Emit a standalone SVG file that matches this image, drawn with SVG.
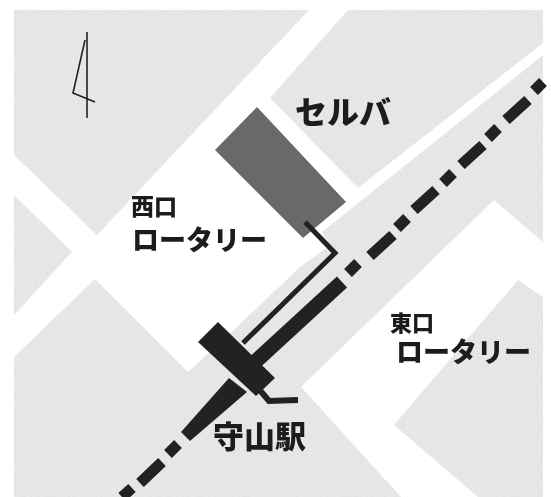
<svg xmlns="http://www.w3.org/2000/svg" width="551" height="497" viewBox="0 0 551 497">
<style>
.t{font-family:"Noto Sans CJK JP","Noto Sans CJK SC",sans-serif;font-weight:900;fill:#1c1c1c;filter:url(#s)}
.k{fill:none;stroke:#222;stroke-linecap:butt}
.dash{stroke-width:11}
.road{fill:#fff}
</style>
<defs>
<filter id="s" x="-5%" y="-5%" width="110%" height="110%"><feGaussianBlur stdDeviation="0.7"/></filter>
<filter id="n" x="0" y="0" width="100%" height="100%">
<feTurbulence type="fractalNoise" baseFrequency="0.55" numOctaves="2" seed="4"/>
<feColorMatrix type="matrix" values="0 0 0 0 0.72  0 0 0 0 0.72  0 0 0 0 0.72  1.5 0 0 0 -0.6"/>
<feGaussianBlur stdDeviation="0.5"/>
</filter>
</defs>
<rect width="551" height="497" fill="#fff"/>
<g id="ground">
<rect x="14" y="10" width="529" height="487" fill="#e8e8e8"/>
<rect x="14" y="10" width="529" height="487" filter="url(#n)"/>
</g>
<g id="roads" filter="url(#s)">
<polygon class="road" points="14,155 97,235 309,10 348,10 270,98 358,188 543,43 543,55 322,232 329,246 300,267 237,327 188,372 95,279 14,357 14,315 72,252 14,195"/>
<polygon class="road" points="494,200 543,242 543,297 518,280 394,425 478,497 401,497 301,387"/>
</g>
<g id="building"><polygon points="257,107 346,202 303,238 215,150" fill="#696969" filter="url(#s)"/></g>
<g id="connectors" filter="url(#s)">
<path class="k dash" d="M543,82L534,91M528,100L506,120M498,128L488,138M483,145L461,165M453,173L443,183M436,190L414,210M407,218L397,228M393,235L370,256M358,263L348,273M178,444L168,454M162,462L140,483M132,488L122,497"/>
<path class="k" stroke-width="15" d="M342,282L255,362"/>
<polygon points="229,378 247,392 190,441 181,432" fill="#222"/>
<polygon points="218,322 198,342 256,396 275,378" fill="#222"/>
<path class="k" stroke-width="6" d="M258,388L269,401L298,400"/>
<path class="k" stroke-width="5" d="M305,222L335,253L243,343"/>
</g>
<g id="compass"><path d="M87,32V118M85,40L73,93L95,102" fill="none" stroke="#222" stroke-width="1.6"/></g>
<g id="label-seruba"><text class="t" x="295" y="124" font-size="32">セルバ</text></g>
<g id="label-west"><text class="t" x="131" y="215" font-size="23">西口</text><text class="t" x="132" y="250" font-size="27">ロータリー</text></g>
<g id="label-east"><text class="t" x="390" y="331" font-size="22">東口</text><text class="t" x="396" y="362" font-size="27">ロータリー</text></g>
<g id="label-station"><text class="t" x="213" y="448" font-size="31">守山駅</text></g>
</svg>
